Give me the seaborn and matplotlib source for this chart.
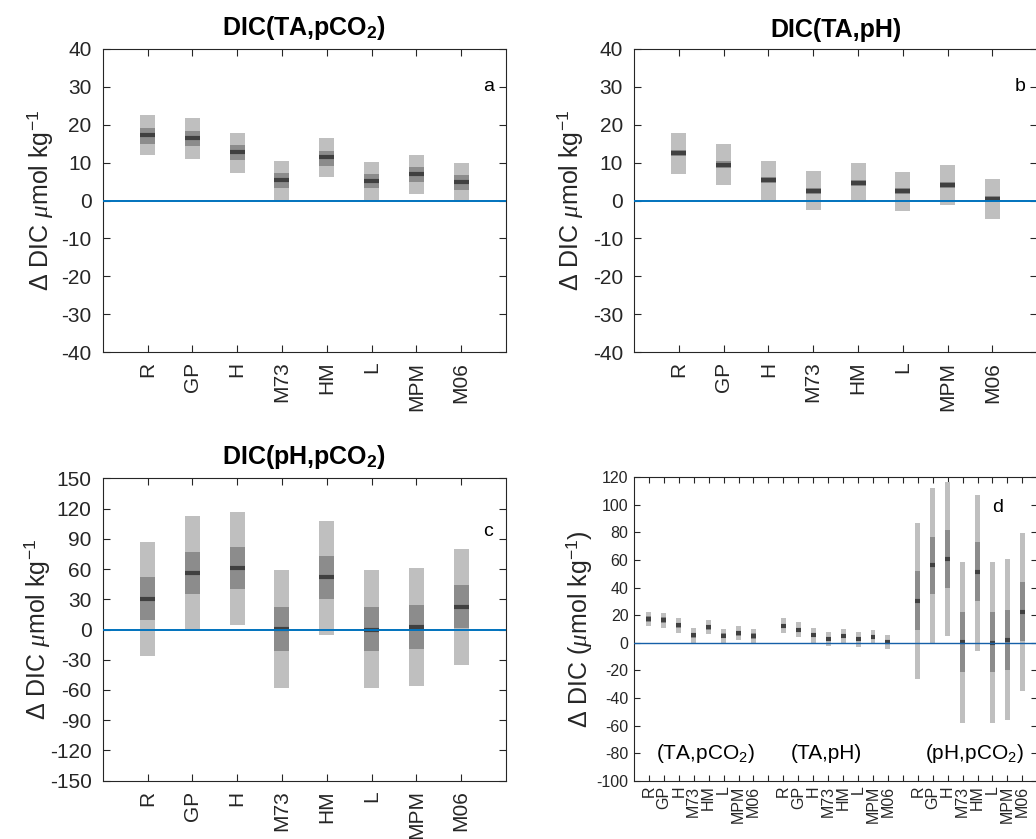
import numpy as np
import pandas as pd
import matplotlib
matplotlib.use("Agg")
import matplotlib.pyplot as plt
import seaborn as sns

# ---------------- data ----------------
categories = ['R', 'GP', 'H', 'M73', 'HM', 'L', 'MPM', 'M06']

# DIC(TA,pCO2)
tapco2_lo95 = [11.9, 11.0, 7.3, 0.0, 6.1, 0.0, 1.8, -0.3]
tapco2_hi95 = [22.6, 21.8, 17.9, 10.5, 16.5, 10.1, 12.1, 9.9]
tapco2_lo50 = [15.0, 14.3, 10.7, 3.3, 9.2, 3.2, 5.0, 2.8]
tapco2_hi50 = [19.2, 18.4, 14.7, 7.3, 13.1, 7.0, 8.9, 6.8]
tapco2_med = [17.3, 16.5, 12.8, 5.5, 11.4, 5.2, 7.0, 5.0]

# DIC(TA,pH)
taph_lo95 = [7.1, 4.2, 0.0, -2.6, -0.5, -2.9, -1.1, -4.8]
taph_hi95 = [17.9, 15.0, 10.5, 7.8, 9.9, 7.6, 9.4, 5.7]
taph_lo50 = [11.7, 8.7, 4.5, 1.8, 3.9, 1.7, 3.3, -0.3]
taph_hi50 = [13.3, 10.3, 6.1, 3.4, 5.5, 3.3, 4.9, 1.3]
taph_med = [12.5, 9.5, 5.3, 2.6, 4.7, 2.5, 4.1, 0.5]

# DIC(pH,pCO2)
phpco2_lo95 = [-26.5, 0.0, 4.6, -57.9, -5.6, -57.9, -55.9, -35.1]
phpco2_hi95 = [86.7, 112.5, 116.4, 58.9, 107.5, 58.9, 60.9, 79.7]
phpco2_lo50 = [9.3, 35.4, 40.0, -21.2, 30.1, -21.2, -19.5, 1.3]
phpco2_hi50 = [51.9, 76.7, 81.7, 22.2, 72.8, 22.2, 24.1, 44.0]
phpco2_med = [30.4, 56.2, 60.9, 0.7, 51.6, 0.0, 2.3, 22.5]

group_labels = [r'(TA,pCO$_2$)', r'(TA,pH)', r'(pH,pCO$_2$)']
titles = [r'DIC(TA,pCO$_\mathbf{2}$)', 'DIC(TA,pH)', r'DIC(pH,pCO$_\mathbf{2}$)']
panel_letters = ['a', 'b', 'c', 'd']

# ---------------- style ----------------
sns.set_theme(style='ticks')
plt.rcParams['font.family'] = ['Liberation Sans', 'DejaVu Sans']
plt.rcParams['mathtext.fontset'] = 'custom'
plt.rcParams['mathtext.rm'] = 'Liberation Sans'
plt.rcParams['mathtext.it'] = 'Liberation Serif:italic'
plt.rcParams['mathtext.bf'] = 'Liberation Sans:bold'
plt.rcParams['axes.unicode_minus'] = False

LIGHT = '#bfbfbf'
MID = '#8c8c8c'
DARK = '#404040'
BLUE = '#0072BD'
AXC = '#262626'
BW = 1 / 3

YLAB = r'$\Delta$ DIC $\mu$mol kg$^{-1}$'
YLAB_D = r'$\Delta$ DIC ($\mu$mol kg$^{-1}$)'

W, H = 1036, 839
fig = plt.figure(figsize=(W / 100, H / 100), dpi=100)


def px_axes(left, top, right, bottom):
    return fig.add_axes([left / W, 1 - bottom / H, (right - left) / W, (bottom - top) / H])


def draw_ranges(ax, pos, lo95, hi95, lo50, hi50, med):
    pos = np.asarray(pos, dtype=float)
    df = pd.DataFrame({'pos': pos,
                       'h95': np.subtract(hi95, lo95),
                       'h50': np.subtract(hi50, lo50)})
    sns.barplot(data=df, x='pos', y='h95', bottom=np.asarray(lo95, float),
                native_scale=True, width=BW, color=LIGHT, saturation=1,
                errorbar=None, linewidth=0, ax=ax, zorder=1)
    sns.barplot(data=df, x='pos', y='h50', bottom=np.asarray(lo50, float),
                native_scale=True, width=BW, color=MID, saturation=1,
                errorbar=None, linewidth=0, ax=ax, zorder=1.5)
    ax.hlines(med, pos - BW / 2, pos + BW / 2, colors=DARK, linewidth=3,
              zorder=2)
    try:
        for ln in ax.collections[-1:]:
            ln.set_capstyle('butt')
    except Exception:
        pass


def style_axes(ax, labsize, pad_y, pad_x, ticklen):
    for sp in ax.spines.values():
        sp.set_visible(True)
        sp.set_color(AXC)
        sp.set_linewidth(0.8)
    ax.tick_params(direction='in', top=True, right=True, length=ticklen,
                   width=0.8, color=AXC, labelcolor=AXC, labelsize=labsize)
    ax.tick_params(axis='y', pad=pad_y)
    ax.tick_params(axis='x', pad=pad_x)
    ax.set_xlabel('')


panels = [
    (tapco2_lo95, tapco2_hi95, tapco2_lo50, tapco2_hi50, tapco2_med),
    (taph_lo95, taph_hi95, taph_lo50, taph_hi50, taph_med),
    (phpco2_lo95, phpco2_hi95, phpco2_lo50, phpco2_hi50, phpco2_med),
]
boxes = [(102.7, 49, 506, 352), (634, 49, 1037.3, 352),
         (102.7, 478.3, 506, 780.7)]
ylims = [(-40, 40, 10), (-40, 40, 10), (-150, 150, 30)]
letter_y = [30, 30, 97]
ylab_x = [-0.118, -0.121, -0.125]

base_pos = np.arange(1, len(categories) + 1)

for i in range(3):
    ax = px_axes(*boxes[i])
    draw_ranges(ax, base_pos, *panels[i])
    ax.axhline(0, color=BLUE, linewidth=1.4, zorder=3)
    lo, hi, step = ylims[i]
    ax.set_ylim(lo, hi)
    ax.set_yticks(np.arange(lo, hi + step / 2, step))
    ax.set_xlim(0, len(categories) + 1)
    ax.set_xticks(base_pos)
    ax.set_xticklabels(categories, rotation=90)
    style_axes(ax, 15, 8, 7, 5)
    ax.set_ylabel(YLAB, fontsize=18, color=AXC)
    ax.yaxis.set_label_coords(ylab_x[i], 0.5)
    ax.set_title(titles[i], fontsize=18, fontweight='bold', va='bottom',
                 pad=5, color='black')
    ax.text(8.5, letter_y[i], panel_letters[i], fontsize=14, ha='left',
            va='center', color='black')

# ---------------- panel d ----------------
axd = px_axes(634, 477.3, 1037.3, 780.7)
n = len(categories)
offsets = [0, n + 1, 2 * (n + 1)]
all_ticks = []
all_labels = []
for g in range(3):
    pos = base_pos + offsets[g]
    draw_ranges(axd, pos, *panels[g])
    all_ticks.extend(list(pos))
    all_labels.extend(categories)
    if g < 2:
        all_ticks.append(pos[-1] + 1)
        all_labels.append('')
axd.axhline(0, color='#1560a8', linewidth=1.0, zorder=3)
axd.set_ylim(-100, 120)
axd.set_yticks(np.arange(-100, 121, 20))
axd.set_xlim(0, 3 * (n + 1))
axd.set_xticks(all_ticks)
axd.set_xticklabels(all_labels, rotation=90, linespacing=0.9)
style_axes(axd, 11.5, 4, 3.5, 4)
axd.set_ylabel(YLAB_D, fontsize=18, color=AXC)
axd.yaxis.set_label_coords(-0.10, 0.5)
group_x = [1.5, 10.5, 19.5]
for g in range(3):
    axd.text(group_x[g], -80, group_labels[g], fontsize=15, ha='left',
             va='center', color='black')
axd.text(24.0, 98, panel_letters[3], fontsize=14, ha='left', va='center',
         color='black')

fig.savefig('out.png', dpi=100)
